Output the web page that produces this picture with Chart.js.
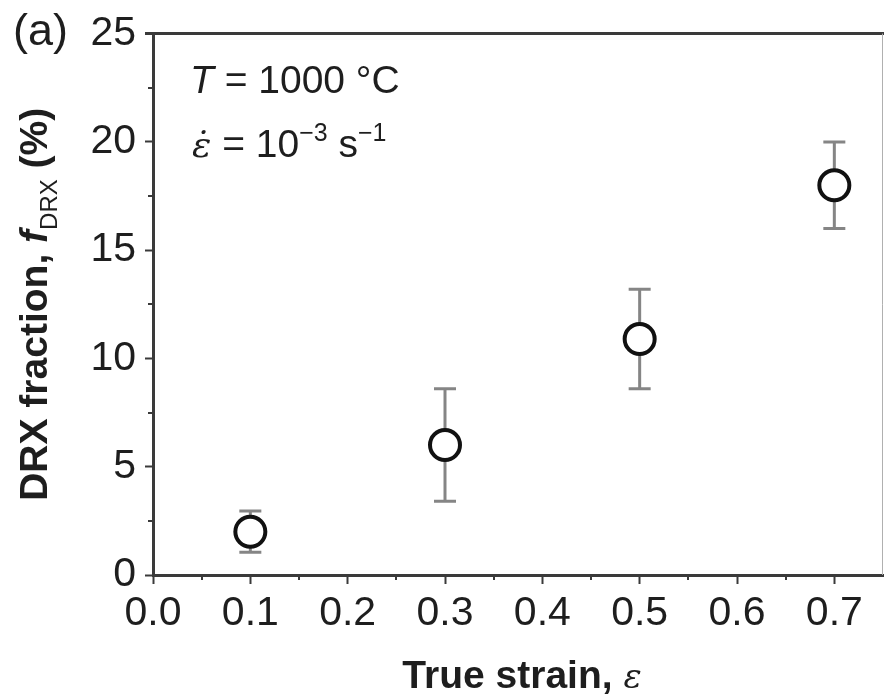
<!DOCTYPE html>
<html>
<head>
<meta charset="utf-8">
<script src="https://cdn.jsdelivr.net/npm/chart.js@4/dist/chart.umd.min.js"></script>
<style>
  html, body { margin: 0; padding: 0; background: #fff; }
  #box { width: 884px; height: 695px; }
</style>
</head>
<body>
<div id="box"><canvas id="drxChart" width="884" height="695"></canvas></div>
<script>
// data
var strain = [0.1, 0.3, 0.5, 0.7];
var drxFraction = [2.0, 6.0, 10.9, 18.0];
var drxError = [0.95, 2.6, 2.3, 2.0];

var xTickValues = [0.0, 0.1, 0.2, 0.3, 0.4, 0.5, 0.6, 0.7];
var xMinorTicks = [0.05, 0.15, 0.25, 0.35, 0.45, 0.55, 0.65];
var yTickValues = [0, 5, 10, 15, 20, 25];
var yMinorTicks = [2.5, 7.5, 12.5, 17.5, 22.5];

var axisColor = '#3a3a3a';
var textColor = '#1e1e1e';
var sans = "'Liberation Sans', Arial, sans-serif";

var points = strain.map(function (s, i) { return { x: s, y: drxFraction[i] }; });

// grey error bars behind the circles
var errorBars = {
  id: 'errorBars',
  beforeDatasetsDraw: function (chart) {
    var ctx = chart.ctx, xs = chart.scales.x, ys = chart.scales.y;
    ctx.save();
    ctx.strokeStyle = '#858585';
    ctx.lineWidth = 3;
    for (var i = 0; i < strain.length; i++) {
      var px = xs.getPixelForValue(strain[i]);
      var top = ys.getPixelForValue(drxFraction[i] + drxError[i]);
      var bot = ys.getPixelForValue(drxFraction[i] - drxError[i]);
      ctx.beginPath();
      ctx.moveTo(px, top); ctx.lineTo(px, bot);
      ctx.moveTo(px - 11, top); ctx.lineTo(px + 11, top);
      ctx.moveTo(px - 11, bot); ctx.lineTo(px + 11, bot);
      ctx.stroke();
    }
    ctx.restore();
  }
};

// minor ticks, frame lines and the mixed-style texts
var decorations = {
  id: 'decorations',
  afterDraw: function (chart) {
    var ctx = chart.ctx, xs = chart.scales.x, ys = chart.scales.y, a = chart.chartArea;
    ctx.save();
    ctx.strokeStyle = axisColor;
    ctx.lineWidth = 2;
    ctx.beginPath();
    xMinorTicks.forEach(function (v) {
      var px = Math.round(xs.getPixelForValue(v));
      ctx.moveTo(px, a.bottom); ctx.lineTo(px, a.bottom + 5);
    });
    yMinorTicks.forEach(function (v) {
      var py = Math.round(ys.getPixelForValue(v));
      ctx.moveTo(a.left - 5, py); ctx.lineTo(a.left, py);
    });
    ctx.stroke();

    // top frame line and faint right edge
    ctx.lineWidth = 3;
    ctx.beginPath();
    ctx.moveTo(a.left - 8, a.top); ctx.lineTo(a.right + 1, a.top);
    ctx.stroke();
    ctx.strokeStyle = '#b0b0b0';
    ctx.lineWidth = 1;
    ctx.beginPath();
    ctx.moveTo(a.right - 0.5, a.top); ctx.lineTo(a.right - 0.5, a.bottom);
    ctx.stroke();

    ctx.fillStyle = textColor;
    ctx.textBaseline = 'alphabetic';
    ctx.textAlign = 'left';

    // panel label
    ctx.font = '45px ' + sans;
    ctx.fillText('(a)', 13, 45);

    // T = 1000 °C
    var x = 190;
    ctx.font = 'italic 39px ' + sans;
    ctx.fillText('T', x, 93);
    x += ctx.measureText('T').width;
    ctx.font = '39px ' + sans;
    ctx.fillText(' = 1000 °C', x, 93);

    // strain rate
    x = 192;
    ctx.font = "italic 36px 'DejaVu Serif', serif";
    ctx.fillText('ε̇', x, 157);
    x += ctx.measureText('ε̇').width;
    ctx.font = '39px ' + sans;
    ctx.fillText(' = 10', x, 157);
    x += ctx.measureText(' = 10').width;
    ctx.font = '25px ' + sans;
    ctx.fillText('−3', x, 141);
    x += ctx.measureText('−3').width;
    ctx.font = '39px ' + sans;
    ctx.fillText(' s', x, 157);
    x += ctx.measureText(' s').width;
    ctx.font = '25px ' + sans;
    ctx.fillText('−1', x, 141);

    // x axis title
    var xParts = [
      { t: 'True strain, ', f: 'bold 39px ' + sans },
      { t: 'ε', f: "italic 34px 'DejaVu Serif', serif" }
    ];
    var xTotal = 0;
    xParts.forEach(function (p) { ctx.font = p.f; p.w = ctx.measureText(p.t).width; xTotal += p.w; });
    var tx = 522 - xTotal / 2;
    xParts.forEach(function (p) {
      ctx.font = p.f;
      ctx.fillText(p.t, tx, 688);
      tx += p.w;
    });

    // y axis title, rotated
    var parts = [
      { t: 'DRX fraction, ', f: 'bold 39px ' + sans, dy: 0 },
      { t: 'f', f: 'bold italic 39px ' + sans, dy: 0 },
      { t: 'DRX', f: '24px ' + sans, dy: 10 },
      { t: ' (%)', f: 'bold 39px ' + sans, dy: 0 }
    ];
    var total = 0;
    parts.forEach(function (p) { ctx.font = p.f; p.w = ctx.measureText(p.t).width; total += p.w; });
    ctx.translate(47, (a.top + a.bottom) / 2);
    ctx.rotate(-Math.PI / 2);
    var cx = -total / 2;
    parts.forEach(function (p) {
      ctx.font = p.f;
      ctx.fillText(p.t, cx, p.dy);
      cx += p.w;
    });
    ctx.restore();
  }
};

var ctx = document.getElementById('drxChart').getContext('2d');
var drxChart = new Chart(ctx, {
  type: 'scatter',
  data: {
    datasets: [{
      label: 'DRX fraction',
      data: points,
      pointStyle: 'circle',
      pointRadius: 15,
      pointHoverRadius: 15,
      pointBorderWidth: 4,
      pointBackgroundColor: '#ffffff',
      pointBorderColor: '#111111'
    }]
  },
  options: {
    responsive: false,
    animation: false,
    devicePixelRatio: 1,
    layout: { autoPadding: false, padding: { top: 33, right: 1, left: 0, bottom: 0 } },
    plugins: {
      legend: { display: false },
      tooltip: { enabled: false }
    },
    scales: {
      x: {
        type: 'linear',
        min: 0,
        max: 0.75,
        afterBuildTicks: function (scale) {
          scale.ticks = xTickValues.map(function (v) { return { value: v }; });
        },
        afterFit: function (scale) {
          scale.height = 120;
          scale.paddingLeft = 0;
          scale.paddingRight = 0;
        },
        border: { display: true, color: axisColor, width: 3 },
        grid: { drawOnChartArea: false, drawTicks: true, tickLength: 9, tickColor: axisColor, tickWidth: 2 },
        ticks: {
          autoSkip: false,
          maxRotation: 0,
          padding: 5,
          color: textColor,
          font: { family: sans, size: 41 },
          callback: function (v) { return v.toFixed(1); }
        },
        title: { display: false, text: 'True strain, ε' }
      },
      y: {
        min: 0,
        max: 25,
        afterBuildTicks: function (scale) {
          scale.ticks = yTickValues.map(function (v) { return { value: v }; });
        },
        afterFit: function (scale) { scale.width = 153; },
        border: { display: true, color: axisColor, width: 3 },
        grid: { drawOnChartArea: false, drawTicks: true, tickLength: 8, tickColor: axisColor, tickWidth: 2 },
        ticks: {
          padding: 9,
          color: textColor,
          font: { family: sans, size: 41 }
        }
      }
    }
  },
  plugins: [errorBars, decorations]
});
</script>
</body>
</html>
